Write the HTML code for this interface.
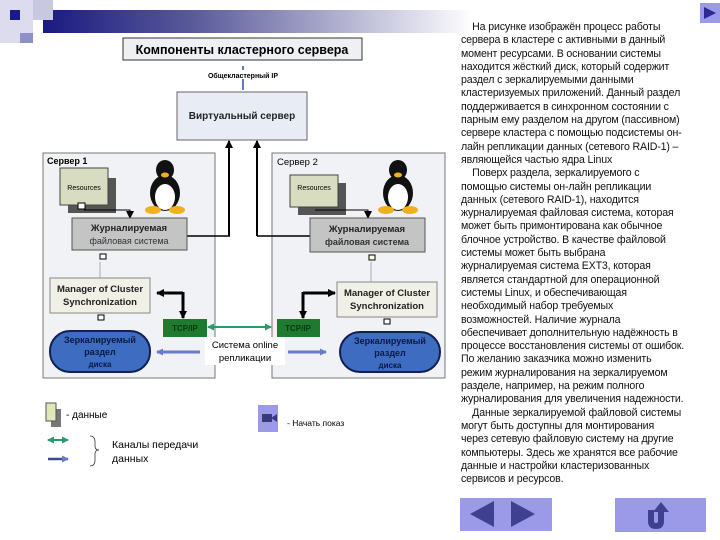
<!DOCTYPE html>
<html><head><meta charset="utf-8"><style>
body{margin:0;width:720px;height:540px;background:#fff;overflow:hidden;position:relative;font-family:"Liberation Sans",sans-serif}
.txt{position:absolute;left:461px;top:21px;font-size:10.6px;line-height:13.3px;color:#111;white-space:nowrap;letter-spacing:-0.15px}
svg{position:absolute;left:0;top:0}
</style></head><body>
<svg width="720" height="540" font-family="Liberation Sans, sans-serif">
<defs>
<linearGradient id="hb" x1="0" x2="1"><stop offset="0" stop-color="#1a1a80"/><stop offset="0.35" stop-color="#5a5a9a"/><stop offset="1" stop-color="#ffffff"/></linearGradient>
<marker id="ab" markerUnits="userSpaceOnUse" markerWidth="8" markerHeight="8" refX="7" refY="4" orient="auto"><path d="M0,0L8,4L0,8z" fill="#000"/></marker>
<marker id="ag" markerUnits="userSpaceOnUse" markerWidth="7" markerHeight="7" refX="6" refY="3.5" orient="auto-start-reverse"><path d="M0,0L7,3.5L0,7z" fill="#2a9a6a"/></marker>
<marker id="abl" markerUnits="userSpaceOnUse" markerWidth="7" markerHeight="7" refX="6" refY="3.5" orient="auto"><path d="M0,0L7,3.5L0,7z" fill="#6a7ac8"/></marker>
</defs>
<rect x="0" y="0" width="33" height="43" fill="#dcdcee"/>
<rect x="43" y="10" width="430" height="23" fill="url(#hb)"/>
<rect x="33" y="0" width="20" height="20" fill="#c8c8e0"/>
<rect x="10" y="10" width="10" height="10" fill="#1a1a90"/>
<rect x="20" y="33" width="13" height="10" fill="#9090c8"/>
<rect x="700" y="3" width="20" height="20" fill="#9a9ae8"/><path d="M704,7L716,13L704,19z" fill="#2a2a90"/>
<rect x="123" y="38" width="239" height="22" fill="#eef0f4" stroke="#333"/>
<text x="242" y="54" font-size="12.5" font-weight="bold" text-anchor="middle">Компоненты кластерного сервера</text>
<line x1="243" y1="90" x2="243" y2="66" stroke="#5a7ab8" stroke-width="2"/>
<rect x="200" y="70" width="85" height="9" fill="#fff"/>
<text x="243" y="78" font-size="7" font-weight="bold" text-anchor="middle">Общекластерный IP</text>
<rect x="177" y="92" width="130" height="48" fill="#e8ecf4" stroke="#666"/>
<text x="242" y="119" font-size="10" font-weight="bold" text-anchor="middle" fill="#222">Виртуальный сервер</text>
<rect x="43" y="153" width="172" height="225" fill="#f0f2f6" stroke="#777"/>
<rect x="272" y="153" width="173" height="225" fill="#f0f2f6" stroke="#777"/>
<text x="47" y="164" font-size="9" font-weight="bold">Сервер 1</text>
<text x="277" y="165" font-size="9.5">Сервер 2</text>
<polyline points="229,236 229,141" fill="none" stroke="#000" stroke-width="2" marker-end="url(#ab)"/>
<polyline points="187,236 230,236" fill="none" stroke="#000" stroke-width="1.5"/>
<polyline points="257,236 257,141" fill="none" stroke="#000" stroke-width="2" marker-end="url(#ab)"/>
<polyline points="257,236 310,236" fill="none" stroke="#000" stroke-width="1.5"/>
<rect x="68" y="178" width="48" height="35" fill="#555"/>
<rect x="60" y="168" width="48" height="37" fill="#d8dcc0" stroke="#444"/>
<text x="84" y="190" font-size="7" text-anchor="middle">Resources</text>
<polyline points="84,210 130,210 130,218" fill="none" stroke="#000" marker-end="url(#ab)"/>
<rect x="78" y="203" width="7" height="6" fill="#fff" stroke="#000"/>
<rect x="72" y="218" width="115" height="32" fill="#c4c4c4" stroke="#555"/>
<text x="129" y="231" font-size="9.5" font-weight="bold" text-anchor="middle" fill="#222">Журналируемая</text>
<text x="129" y="244" font-size="9" text-anchor="middle" fill="#333">файловая система</text>
<rect x="100" y="254" width="6" height="5" fill="#fff" stroke="#000"/>
<line x1="100" y1="262" x2="100" y2="278" stroke="#aab"/>
<rect x="50" y="278" width="100" height="35" fill="#f0f0e6" stroke="#888"/>
<text x="100" y="292" font-size="9.5" font-weight="bold" text-anchor="middle" fill="#222">Manager of Cluster</text>
<text x="100" y="305" font-size="9.5" font-weight="bold" text-anchor="middle" fill="#222">Synchronization</text>
<rect x="98" y="315" width="6" height="5" fill="#fff" stroke="#000"/>
<polyline points="183,293 157,293" fill="none" stroke="#000" stroke-width="3" marker-end="url(#ab)"/>
<polyline points="183,292 183,318" fill="none" stroke="#000" stroke-width="3" marker-end="url(#ab)"/>
<rect x="163" y="319" width="44" height="18" fill="#1e7a2e"/>
<text x="185" y="331" font-size="8" font-weight="bold" text-anchor="middle" fill="#0a3a10">TCP/IP</text>
<rect x="50" y="331" width="100" height="41" rx="20" fill="#3d6cc0" stroke="#102050" stroke-width="2"/>
<text x="100" y="343" font-size="9" font-weight="bold" text-anchor="middle" fill="#0a1a40">Зеркалируемый</text>
<text x="100" y="355" font-size="9" font-weight="bold" text-anchor="middle" fill="#0a1a40">раздел</text>
<text x="100" y="367" font-size="8" font-weight="bold" text-anchor="middle" fill="#0a1a40">диска</text>
<rect x="298" y="183" width="48" height="32" fill="#555"/>
<rect x="290" y="175" width="48" height="32" fill="#d8dcc0" stroke="#444"/>
<text x="314" y="190" font-size="7" text-anchor="middle">Resources</text>
<polyline points="315,210 368,210 368,218" fill="none" stroke="#000" marker-end="url(#ab)"/>
<rect x="310" y="218" width="115" height="34" fill="#c4c4c4" stroke="#555"/>
<text x="367" y="232" font-size="9.5" font-weight="bold" text-anchor="middle" fill="#222">Журналируемая</text>
<text x="367" y="245" font-size="9" font-weight="bold" text-anchor="middle" fill="#333">файловая система</text>
<rect x="369" y="255" width="6" height="5" fill="#ffffe0" stroke="#000"/>
<line x1="371" y1="262" x2="371" y2="282" stroke="#aab"/>
<rect x="337" y="282" width="100" height="35" fill="#f0f0e6" stroke="#888"/>
<text x="387" y="296" font-size="9.5" font-weight="bold" text-anchor="middle" fill="#222">Manager of Cluster</text>
<text x="387" y="309" font-size="9.5" font-weight="bold" text-anchor="middle" fill="#222">Synchronization</text>
<rect x="384" y="319" width="6" height="5" fill="#fff" stroke="#000"/>
<polyline points="303,293 335,293" fill="none" stroke="#000" stroke-width="3" marker-end="url(#ab)"/>
<polyline points="303,292 303,318" fill="none" stroke="#000" stroke-width="3" marker-end="url(#ab)"/>
<rect x="277" y="319" width="43" height="18" fill="#1e7a2e"/>
<text x="298" y="331" font-size="8" font-weight="bold" text-anchor="middle" fill="#0a3a10">TCP/IP</text>
<rect x="340" y="332" width="100" height="40" rx="20" fill="#3d6cc0" stroke="#102050" stroke-width="2"/>
<text x="390" y="344" font-size="9" font-weight="bold" text-anchor="middle" fill="#0a1a40">Зеркалируемый</text>
<text x="390" y="356" font-size="9" font-weight="bold" text-anchor="middle" fill="#0a1a40">раздел</text>
<text x="390" y="368" font-size="8" font-weight="bold" text-anchor="middle" fill="#0a1a40">диска</text>
<line x1="208" y1="327" x2="271" y2="327" stroke="#2a9a6a" stroke-width="2" marker-end="url(#ag)" marker-start="url(#ag)"/>
<line x1="200" y1="352" x2="157" y2="352" stroke="#6a7ac8" stroke-width="3" marker-end="url(#abl)"/>
<line x1="288" y1="352" x2="326" y2="352" stroke="#6a7ac8" stroke-width="3" marker-end="url(#abl)"/>
<rect x="205" y="337" width="80" height="28" fill="#fff"/>
<text x="245" y="348" font-size="9.5" text-anchor="middle">Система online</text>
<text x="245" y="361" font-size="9.5" text-anchor="middle">репликации</text>
<g id="p1">
<ellipse cx="165" cy="193" rx="15" ry="18" fill="#111"/>
<ellipse cx="165" cy="197" rx="10" ry="13" fill="#fff"/>
<ellipse cx="165" cy="170" rx="9" ry="10" fill="#111"/>
<ellipse cx="165" cy="175" rx="4" ry="2.5" fill="#f0b020"/>
<ellipse cx="153" cy="210" rx="8" ry="4" fill="#f0b020"/>
<ellipse cx="177" cy="210" rx="8" ry="4" fill="#f0b020"/>
</g>
<use href="#p1" x="233" y="0"/>
<rect x="51" y="409" width="10" height="18" fill="#777"/>
<rect x="46" y="403" width="10" height="18" fill="#e0e8b8" stroke="#555"/>
<text x="66" y="418" font-size="10">- данные</text>
<line x1="48" y1="440" x2="68" y2="440" stroke="#2a9a6a" stroke-width="2" marker-end="url(#ag)" marker-start="url(#ag)"/>
<line x1="48" y1="459" x2="68" y2="459" stroke="#3a4a8a" stroke-width="2.5" marker-end="url(#abl)"/>
<path d="M90,436 Q95,436 95,442 L95,446 Q95,450 99,450 Q95,450 95,454 L95,460 Q95,466 90,466" fill="none" stroke="#333" stroke-width="0.8"/>
<text x="112" y="448" font-size="10.5">Каналы передачи</text>
<text x="112" y="462" font-size="10.5">данных</text>
<rect x="258" y="405" width="20" height="27" fill="#9a9ae8"/>
<rect x="262" y="414" width="10" height="8" fill="#3a3a7a"/><path d="M271,418L277,414L277,422z" fill="#3a3a7a"/>
<text x="287" y="426" font-size="8.5">- Начать показ</text>
<rect x="460" y="498" width="92" height="33" fill="#9a9ae8"/>
<path d="M470,514L494,501L494,527z" fill="#404090"/><path d="M511,501L535,514L511,527z" fill="#404090"/>
<rect x="615" y="498" width="91" height="34" fill="#9a9ae8"/>
<path d="M648,510 L648,521 Q648,529 656,529 Q664,529 664,521 L664,512 L669,512 L661,502 L653,512 L658,512 L658,521 Q658,523 656,523 Q654,523 654,521 L654,510 Z" fill="#404090"/>
</svg>
<div class="txt">&nbsp;&nbsp;&nbsp;&nbsp;На рисунке изображён процесс работы<br>сервера в кластере с активными в данный<br>момент ресурсами. В основании системы<br>находится жёсткий диск, который содержит<br>раздел с зеркалируемыми данными<br>кластеризуемых приложений. Данный раздел<br>поддерживается в синхронном состоянии с<br>парным ему разделом на другом (пассивном)<br>сервере кластера с помощью подсистемы он-<br>лайн репликации данных (сетевого RAID-1) –<br>являющейся частью ядра Linux<br>&nbsp;&nbsp;&nbsp;&nbsp;Поверх раздела, зеркалируемого с<br>помощью системы он-лайн репликации<br>данных (сетевого RAID-1), находится<br>журналируемая файловая система, которая<br>может быть примонтирована как обычное<br>блочное устройство. В качестве файловой<br>системы может быть выбрана<br>журналируемая система EXT3, которая<br>является стандартной для операционной<br>системы Linux, и обеспечивающая<br>необходимый набор требуемых<br>возможностей. Наличие журнала<br>обеспечивает дополнительную надёжность в<br>процессе восстановления системы от ошибок.<br>По желанию заказчика можно изменить<br>режим журналирования на зеркалируемом<br>разделе, например, на режим полного<br>журналирования для увеличения надежности.<br>&nbsp;&nbsp;&nbsp;&nbsp;Данные зеркалируемой файловой системы<br>могут быть доступны для монтирования<br>через сетевую файловую систему на другие<br>компьютеры. Здесь же хранятся все рабочие<br>данные и настройки кластеризованных<br>сервисов и ресурсов.</div>
</body></html>
